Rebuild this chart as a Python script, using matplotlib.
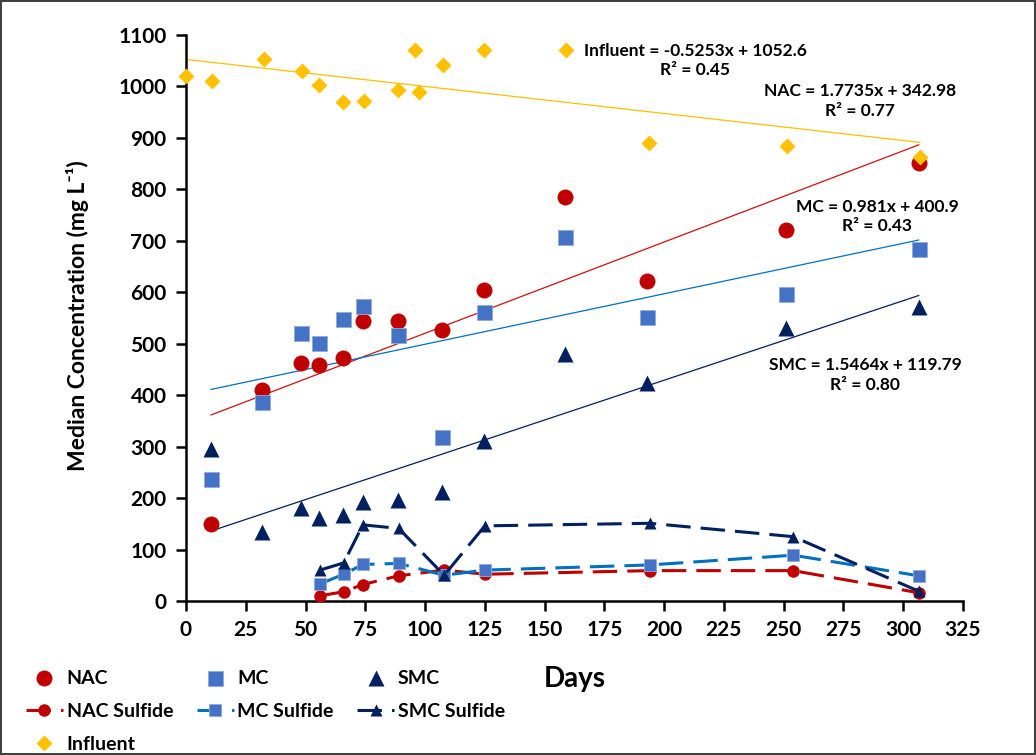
import numpy as np
import matplotlib
matplotlib.use("Agg")
import matplotlib.pyplot as plt

plt.rcParams['font.family'] = ['Lato', 'DejaVu Sans']
plt.rcParams['font.weight'] = 'bold'

# median concentrations (mg/L)
days = [10.5, 32, 48, 55.5, 65.5, 74, 88.5, 107, 124.5, 158.5, 193, 251, 306.5]
nac = [150, 410, 463, 458, 473, 545, 545, 527, 605, 786, 622, 722, 852]
mc = [238, 386, 520, 501, 549, 574, 517, 319, 561, 707, 551, 597, 684]
smc = [295, 135, 180, 161, 168, 193, 196, 212, 310, 481, 424, 530, 572]

infl_days = [0, 11, 32.5, 48.5, 55.5, 65.5, 74.5, 88.5, 96, 97.5, 107.5, 124.5, 159, 193.5, 251.5, 307]
influent = [1020, 1010, 1053, 1030, 1002, 970, 972, 994, 1071, 989, 1041, 1071, 1071, 890, 885, 863]

sulf_days = [56, 66, 74, 89, 108, 125, 194, 254, 306.5]
nac_sulf = [10, 18, 32, 49, 60, 52, 59, 59, 16]
mc_sulf = [33, 52, 71, 73, 50, 60, 70, 89, 49]
smc_sulf = [60, 74, 148, 141, 50, 146, 151, 125, 19]

# linear trends as printed on the chart (slope, intercept, R2)
fits = {
    "Influent": (-0.5253, 1052.6, 0.45),
    "NAC": (1.7735, 342.98, 0.77),
    "MC": (0.981, 400.9, 0.43),
    "SMC": (1.5464, 119.79, 0.80),
}

c_nac, c_mc, c_smc, c_inf = "#C00000", "#4472C4", "#002060", "#FFC000"

fig = plt.figure(figsize=(10.36, 7.55), dpi=100)
ax = fig.add_axes([0.1795, 0.204, 0.75, 0.7496])

# trend lines
for xs, key, col in [(infl_days, "Influent", c_inf), (days, "NAC", "#D01010"),
                     (days, "MC", "#0070C0"), (days, "SMC", c_smc)]:
    m, b, _ = fits[key]
    xx = np.array([min(xs), max(xs)])
    ax.plot(xx, m * xx + b, color=col, lw=0.9, zorder=2)

h_nac, = ax.plot(days, nac, 'o', color=c_nac, ms=11.5, mec='none', label="NAC", zorder=4)
h_mc, = ax.plot(days, mc, 's', color=c_mc, ms=10.8, mec='#8FAADC', mew=0.6, label="MC", zorder=4)
h_smc, = ax.plot(days, smc, '^', color=c_smc, ms=11, mec='none', label="SMC", zorder=4)
h_inf, = ax.plot(infl_days, influent, 'D', color=c_inf, ms=8.5, mec='none', label="Influent",
                 zorder=4, clip_on=False)

dash = (8, 3.3)
h_ns, = ax.plot(sulf_days, nac_sulf, '--o', color=c_nac, lw=2.2, dashes=dash, ms=9, mec='none',
                label="NAC Sulfide", zorder=3)
h_ms, = ax.plot(sulf_days, mc_sulf, '--s', color="#0070C0", mfc=c_mc, lw=2.2, dashes=dash, ms=8.5,
                mec='#8FAADC', mew=0.6, label="MC Sulfide", zorder=3)
h_ss, = ax.plot(sulf_days, smc_sulf, '--^', color=c_smc, lw=2.2, dashes=dash, ms=8.5, mec='none',
                label="SMC Sulfide", zorder=3)

# equations
txt = dict(ha='center', va='center', fontsize=12.5, fontweight='bold', linespacing=1.25)
ax.text(213, 1050, "Influent = -0.5253x + 1052.6\nR² = 0.45", **txt)
ax.text(282, 972, "NAC = 1.7735x + 342.98\nR² = 0.77", **txt)
ax.text(289, 748, "MC = 0.981x + 400.9\nR² = 0.43", **txt)
ax.text(284, 439, "SMC = 1.5464x + 119.79\nR² = 0.80", **txt)

ax.set_xlim(0, 325)
ax.set_ylim(0, 1100)
ax.set_xticks(np.arange(0, 326, 25))
ax.set_yticks(np.arange(0, 1101, 100))
for s in ["top", "right"]:
    ax.spines[s].set_visible(False)
for s in ["left", "bottom"]:
    ax.spines[s].set_linewidth(1.8)
ax.tick_params(direction='out', length=7, width=1.8, labelsize=15, pad=7)
for lab in ax.get_xticklabels() + ax.get_yticklabels():
    lab.set_fontweight('bold')

ax.set_ylabel("Median Concentration (mg L⁻¹)", fontsize=16.5, fontweight='bold')
ax.yaxis.set_label_coords(-0.125, 0.505)
ax.set_xlabel("Days", fontsize=20, fontweight='bold')
ax.xaxis.set_label_coords(0.5, -0.115)

handles = [h_nac, h_ns, h_inf, h_mc, h_ms, h_smc, h_ss]
fig.legend(handles=handles, labels=[h.get_label() for h in handles], loc='upper left',
           bbox_to_anchor=(0.025, 0.112), ncol=3, frameon=False,
           prop={'weight': 'bold', 'size': 14}, handlelength=1.9, handletextpad=0.2,
           columnspacing=1.2, labelspacing=0.8, borderaxespad=0, borderpad=0)

fig.patch.set_edgecolor('#404040')
fig.patch.set_linewidth(1.5)
fig.savefig("out.png", dpi=100, edgecolor=fig.get_edgecolor())
